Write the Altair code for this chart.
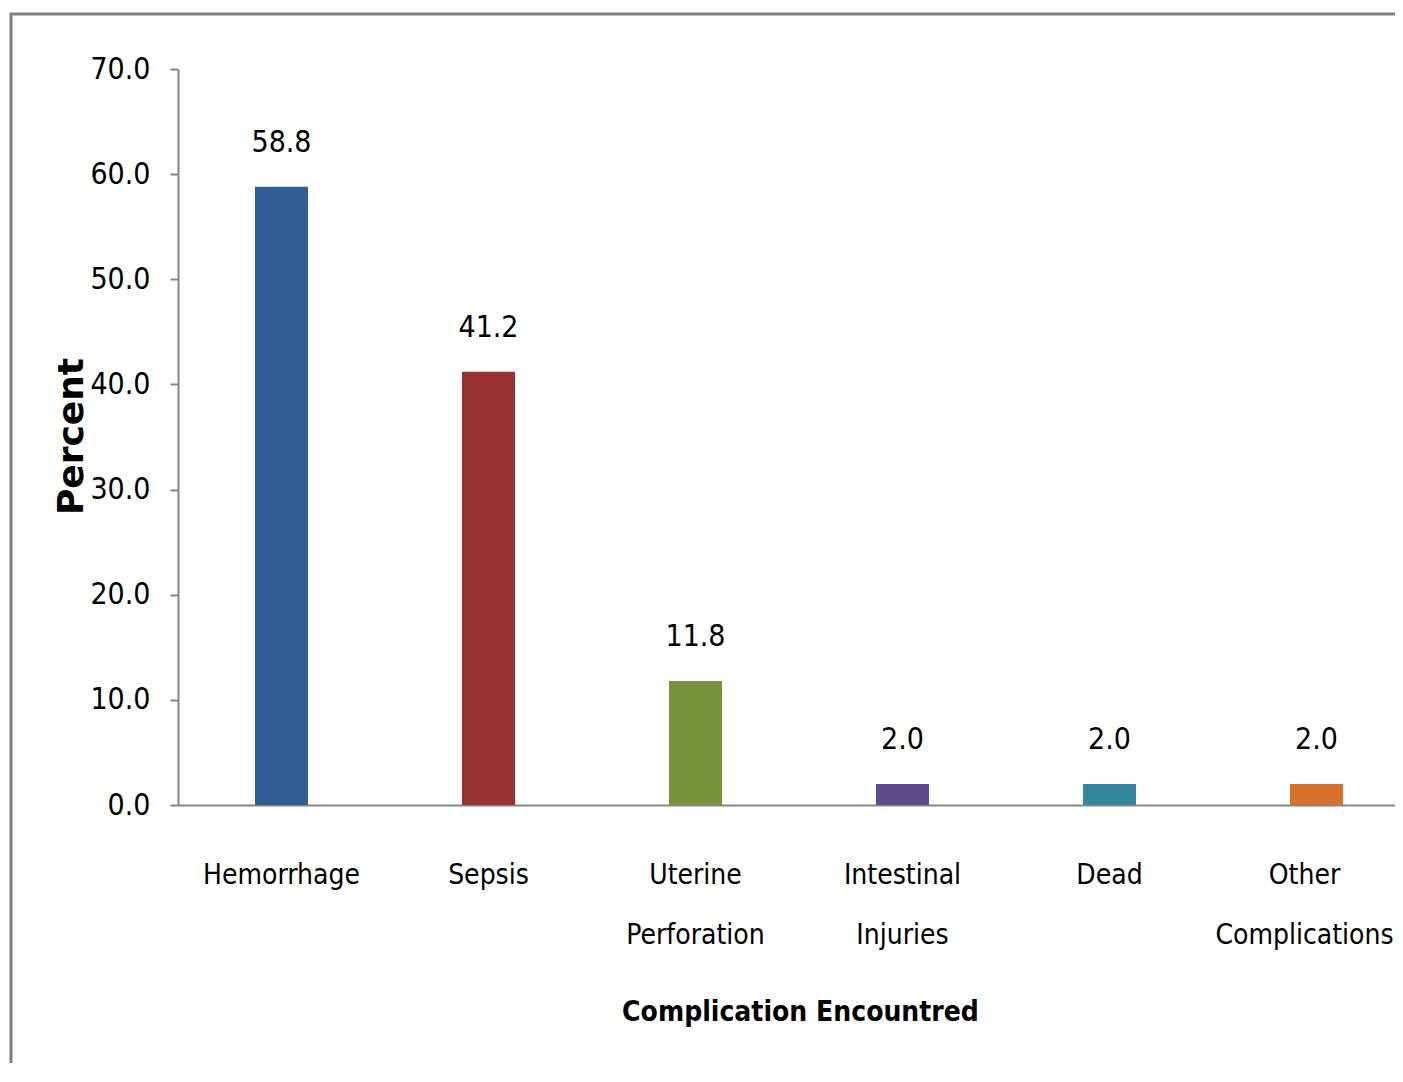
import altair as alt
import pandas as pd

categories = ["Hemorrhage", "Sepsis", "Uterine Perforation", "Intestinal Injuries", "Dead", "Other Complications"]
percent = [58.8, 41.2, 11.8, 2.0, 2.0, 2.0]
colors = ["#315D95", "#973230", "#77933C", "#5F4A8B", "#31859C", "#D7712C"]
y_ticks = [0, 10, 20, 30, 40, 50, 60, 70]

df = pd.DataFrame({"cat": categories, "val": percent})

NARROW = "Liberation Sans Narrow, DejaVu Sans Condensed, sans-serif"

x_enc = alt.X(
    "cat:N",
    sort=categories,
    scale=alt.Scale(range=[0, 1242], paddingInner=0, paddingOuter=0),
    axis=alt.Axis(
        title="Complication Encountred",
        labelAngle=0,
        ticks=False,
        domainColor="#868686",
        domainWidth=2,
        labelFont=NARROW,
        labelFontSize=28,
        labelColor="black",
        labelPadding=56,
        labelLineHeight=60,
        labelLimit=0,
        labelExpr="split(datum.label, ' ')",
        labelOffset={"condition": {"test": "datum.value == 'Other Complications'", "value": -12}, "value": 0},
        titleFont=NARROW,
        titleFontSize=28,
        titleFontWeight="bold",
        titleColor="black",
        titleX=622,
        titleY=215,
        titleAlign="center",
        titleBaseline="alphabetic",
    ),
)

y_enc = alt.Y(
    "val:Q",
    scale=alt.Scale(domain=[0, 70]),
    axis=alt.Axis(
        title="Percent",
        values=y_ticks,
        format=".1f",
        grid=False,
        domainColor="#868686",
        domainWidth=2,
        tickColor="#868686",
        tickWidth=2,
        tickSize=8,
        labelFont=NARROW,
        labelFontSize=30,
        labelColor="black",
        labelPadding=20,
        titleFont="DejaVu Sans",
        titleFontSize=36,
        titleFontWeight="bold",
        titleColor="black",
        titleX=-96,
        titleY=367,
        titleAlign="center",
        titleBaseline="alphabetic",
    ),
)

frame = alt.Chart(pd.DataFrame({"f": [0]})).mark_rect(
    fill=None, stroke="#808080", strokeWidth=3
).encode(
    x=alt.value(-167), x2=alt.value(3000), y=alt.value(-55), y2=alt.value(3000)
)

bars = alt.Chart(df).mark_bar(size=53).encode(
    x=x_enc,
    y=y_enc,
    color=alt.Color("cat:N", scale=alt.Scale(domain=categories, range=colors), legend=None),
)

labels = alt.Chart(df).mark_text(
    dy=-35, baseline="alphabetic", font=NARROW, fontSize=30, color="black"
).encode(
    x=alt.X("cat:N", sort=categories),
    y="val:Q",
    text=alt.Text("val:Q", format=".1f"),
)

chart = alt.layer(frame, bars, labels).properties(
    width=1217,
    height=736,
    autosize=alt.AutoSizeParams(type="none"),
    padding={"left": 170, "top": 61, "right": 0, "bottom": 258},
).configure_view(stroke=None)

chart.save("out.html", embed_options={"renderer": "svg", "actions": False})
